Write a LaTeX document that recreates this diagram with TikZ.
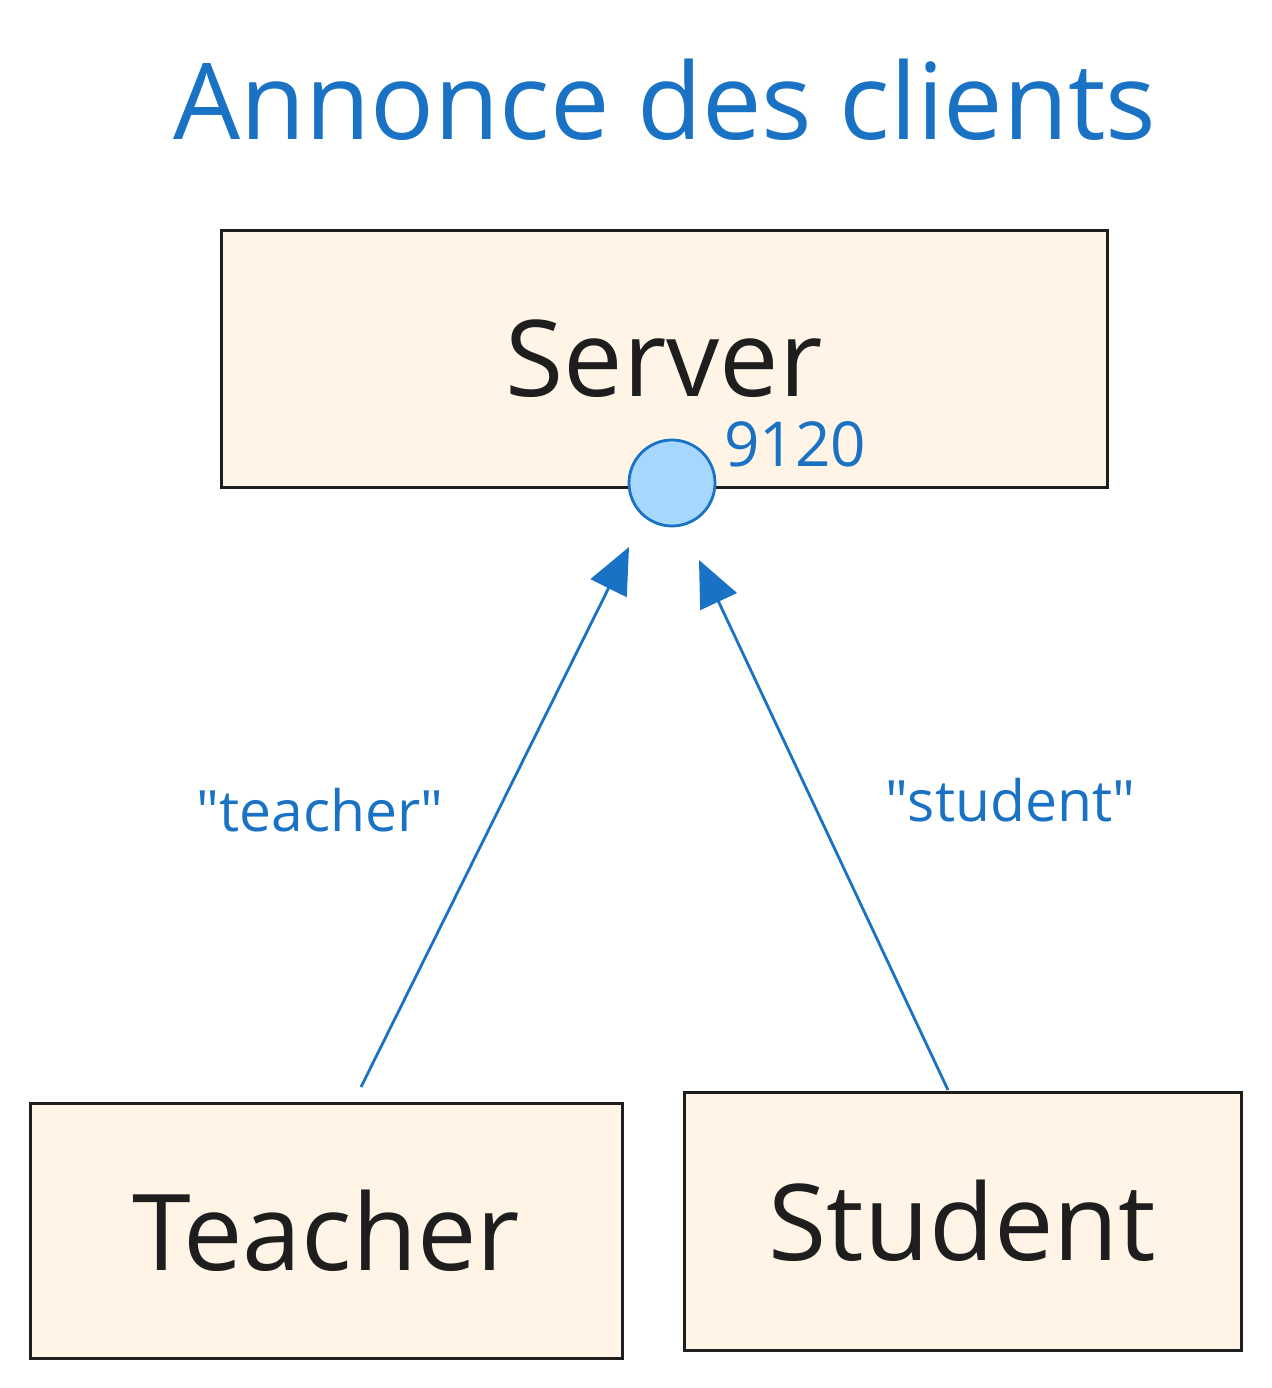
\documentclass[tikz,border=0pt]{standalone}
\usepackage{fontspec}
\setmainfont{Open Sans}
\usetikzlibrary{arrows.meta}
\definecolor{dblue}{RGB}{26,114,196}
\definecolor{boxfill}{RGB}{255,244,230}
\definecolor{portfill}{RGB}{166,216,255}
\definecolor{boxline}{RGB}{30,30,30}
\begin{document}
\begin{tikzpicture}[x=1pt,y=-1pt,
  shapebox/.style={draw=boxline,fill=boxfill,line width=3pt,inner sep=0pt,text=boxline,font=\fontsize{106}{120}\selectfont},
  edgelabel/.style={text=dblue,font=\fontsize{57}{60}\selectfont,inner sep=0pt},
  conn/.style={draw=dblue,line width=2.8pt,-{Triangle[length=46pt,width=40pt]}}]
\useasboundingbox (0,0) rectangle (1271,1388);
\node[text=dblue,font=\fontsize{106}{120}\selectfont,inner sep=0pt] (title) at (665,100) {Annonce des clients};
\node[shapebox,minimum width=886pt,minimum height=256pt] (server) at (664,359) {Server};
\node[shapebox,minimum width=592pt,minimum height=255pt] (teacher) at (326,1230.5) {Teacher};
\node[shapebox,minimum width=557pt,minimum height=258pt] (student) at (962.5,1221) {Student};
\node[circle,draw=dblue,fill=portfill,line width=2.8pt,minimum size=86pt,inner sep=0pt] (port) at (672,483) {};
\node[text=dblue,font=\fontsize{62}{64}\selectfont,inner sep=0pt,anchor=west] (portlabel) at (724,444) {9120};
\coordinate (ts) at (361,1087);
\coordinate (tt) at (629,547);
\coordinate (ss) at (948,1090);
\coordinate (st) at (699,560);
\draw[conn] (ts) -- (tt);
\draw[conn] (ss) -- (st);
\node[edgelabel] (tlabel) at (320,810) {\textquotedbl teacher\textquotedbl};
\node[edgelabel] (slabel) at (1010,800) {\textquotedbl student\textquotedbl};
\end{tikzpicture}
\end{document}
